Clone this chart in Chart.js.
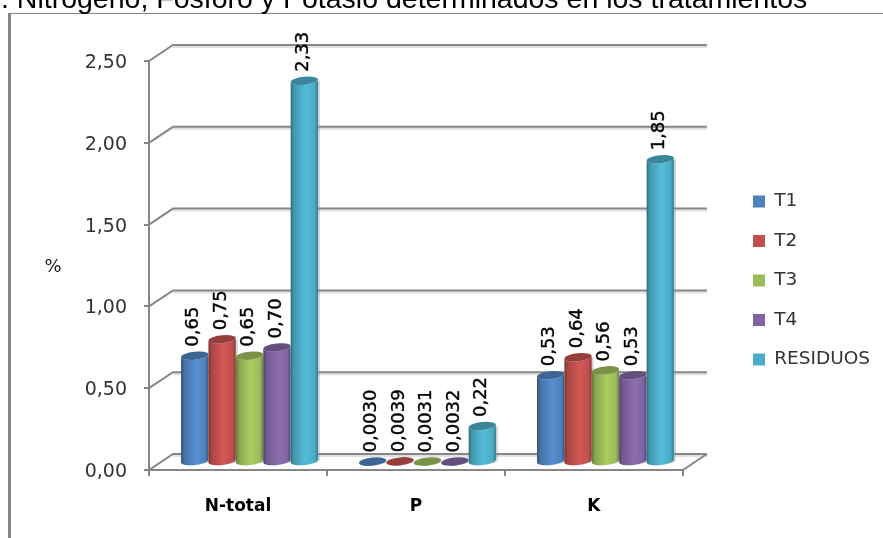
<!DOCTYPE html>
<html>
<head>
<meta charset="utf-8">
<title>Nitrógeno, Fósforo y Potasio</title>
<script src="https://cdn.jsdelivr.net/npm/chart.js@4"></script>
<style>
  html, body { margin: 0; padding: 0; background: #fff; overflow: hidden; }
  canvas { display: block; }
</style>
</head>
<body>
<canvas id="myChart" width="883" height="538"></canvas>
<script>
const categories = ['N-total', 'P', 'K'];
const t1 = [0.65, 0.0030, 0.53];
const t2 = [0.75, 0.0039, 0.64];
const t3 = [0.65, 0.0031, 0.56];
const t4 = [0.70, 0.0032, 0.53];
const residuos = [2.33, 0.22, 1.85];
const seriesNames = ['T1', 'T2', 'T3', 'T4', 'RESIDUOS'];
const seriesColors = ['#4f81bd', '#c0504d', '#9bbb59', '#8064a2', '#4bacc6'];
const titleText = '. Nitrógeno, Fósforo y Potasio determinados en los tratamientos';

const FONT = '"DejaVu Sans", sans-serif';
const GRID = '#868686';
// depth of the floor and walls, and where the cylinders sit on the floor
const DEPTH_X = 24, DEPTH_Y = -16;
const BAR_DX = 11.5, BAR_DY = -8;
const LEGEND_PADDING = 21;

const comma = (v, d) => v.toFixed(d).replace('.', ',');

function shade(hex, f) {
  const n = parseInt(hex.slice(1), 16);
  const c = [n >> 16, (n >> 8) & 255, n & 255].map((x) => Math.min(255, Math.round(x * f)));
  return `rgb(${c[0]},${c[1]},${c[2]})`;
}

function drawWalls(chart) {
  const { ctx } = chart;
  const y = chart.scales.y;
  const x = chart.scales.x;
  const { left, right, bottom } = chart.chartArea;
  ctx.save();
  ctx.lineWidth = 2;
  y.ticks.forEach((tick) => {
    const py = y.getPixelForValue(tick.value);
    // soft edge under the back gridlines
    ctx.strokeStyle = 'rgba(134,134,134,0.25)';
    ctx.beginPath();
    ctx.moveTo(left + DEPTH_X, py + DEPTH_Y + 2);
    ctx.lineTo(right + DEPTH_X, py + DEPTH_Y + 2);
    ctx.stroke();
    ctx.strokeStyle = GRID;
    ctx.beginPath();
    ctx.moveTo(left, py);
    ctx.lineTo(left + DEPTH_X, py + DEPTH_Y);
    ctx.lineTo(right + DEPTH_X, py + DEPTH_Y);
    ctx.stroke();
  });
  // right edge of the floor
  ctx.beginPath();
  ctx.moveTo(x.right, bottom);
  ctx.lineTo(x.right + DEPTH_X, bottom + DEPTH_Y);
  ctx.stroke();
  ctx.restore();
}

function drawCylinder(ctx, bar, color) {
  const w = bar.width;
  const cx = bar.x + BAR_DX;
  const l = cx - w / 2;
  const r = cx + w / 2;
  const top = bar.y + BAR_DY;
  const base = bar.base + BAR_DY;
  const ry = 4;
  const tilt = -0.11;

  const g = ctx.createLinearGradient(l, 0, r, 0);
  g.addColorStop(0, shade(color, 0.62));
  g.addColorStop(0.12, shade(color, 0.88));
  g.addColorStop(0.55, shade(color, 1.1));
  g.addColorStop(0.88, shade(color, 1.0));
  g.addColorStop(1, shade(color, 0.7));

  ctx.save();
  ctx.shadowColor = 'rgba(120,150,160,0.4)';
  ctx.shadowOffsetX = 2;
  ctx.fillStyle = g;
  ctx.beginPath();
  ctx.ellipse(cx, base, w / 2, ry, tilt, 0, Math.PI);
  ctx.ellipse(cx, top, w / 2, ry, tilt, Math.PI, 0, true);
  ctx.closePath();
  ctx.fill();
  ctx.restore();

  ctx.fillStyle = shade(color, 0.78);
  ctx.beginPath();
  ctx.ellipse(cx, top, w / 2, ry, tilt, 0, Math.PI * 2);
  ctx.fill();
}

const cylinders = {
  id: 'cylinders',
  beforeDatasetsDraw(chart) {
    const { ctx } = chart;
    drawWalls(chart);
    chart.data.datasets.forEach((ds, i) => {
      chart.getDatasetMeta(i).data.forEach((bar) => drawCylinder(ctx, bar, ds.backgroundColor));
    });
    // rotated value labels above each cylinder
    ctx.save();
    ctx.fillStyle = '#000';
    ctx.strokeStyle = '#000';
    ctx.lineWidth = 0.4;
    ctx.font = `18px ${FONT}`;
    ctx.textAlign = 'left';
    ctx.textBaseline = 'middle';
    chart.data.datasets.forEach((ds, i) => {
      chart.getDatasetMeta(i).data.forEach((bar, j) => {
        const v = ds.data[j];
        const text = comma(v, v < 0.01 ? 4 : 2);
        ctx.save();
        ctx.translate(bar.x + BAR_DX - 1, bar.y + BAR_DY - 9);
        ctx.rotate(-Math.PI / 2);
        ctx.fillText(text, 0, 0);
        ctx.strokeText(text, 0, 0);
        ctx.restore();
      });
    });
    ctx.restore();
    return false;
  },
};

const decorations = {
  id: 'decorations',
  afterLayout(chart) {
    // the legend floats clear of the plot
    const legend = chart.legend;
    const w = legend.width;
    legend.left = 753 - LEGEND_PADDING;
    legend.right = legend.left + w;
    legend.top -= 19;
    legend.bottom -= 19;
  },
  beforeDraw(chart) {
    const { ctx } = chart;
    ctx.save();
    ctx.fillStyle = '#868686';
    ctx.fillRect(8, 13, 3, 525);
    ctx.fillRect(8, 13, 875, 1);
    ctx.fillStyle = '#000';
    ctx.font = '28.5px "Liberation Sans", Arial, sans-serif';
    ctx.textBaseline = 'alphabetic';
    ctx.textAlign = 'left';
    ctx.fillText(titleText, 1, 8);
    ctx.fillStyle = '#222';
    ctx.font = `18px ${FONT}`;
    ctx.textAlign = 'center';
    ctx.textBaseline = 'middle';
    ctx.fillText('%', 53, 267);
    ctx.restore();
  },
};

const ctx = document.getElementById('myChart').getContext('2d');
new Chart(ctx, {
  type: 'bar',
  data: {
    labels: categories,
    datasets: [t1, t2, t3, t4, residuos].map((values, i) => ({
      label: seriesNames[i],
      data: values,
      backgroundColor: seriesColors[i],
    })),
  },
  options: {
    responsive: false,
    animation: false,
    categoryPercentage: 0.77,
    barPercentage: 1,
    layout: { padding: { top: 61, right: 52, left: 0, bottom: 0 } },
    plugins: {
      tooltip: { enabled: false },
      legend: {
        position: 'right',
        labels: {
          boxWidth: 12,
          boxHeight: 12,
          padding: LEGEND_PADDING,
          color: '#333',
          font: { family: FONT, size: 18.5 },
        },
      },
    },
    scales: {
      x: {
        afterFit: (s) => { s.height = 68; },
        border: { color: GRID, width: 2 },
        grid: { offset: true, drawOnChartArea: false, color: GRID, lineWidth: 2, tickLength: 6 },
        ticks: { color: '#000', padding: 20, font: { family: FONT, size: 17, weight: 'bold' } },
      },
      y: {
        min: 0,
        max: 2.5,
        afterFit: (s) => { s.width = 149; },
        border: { color: GRID, width: 2 },
        grid: { drawOnChartArea: false, color: GRID, lineWidth: 2, tickLength: 5 },
        ticks: {
          stepSize: 0.5,
          color: '#333',
          padding: 17,
          labelOffset: 2,
          font: { family: FONT, size: 19 },
          callback: (v) => comma(v, 2),
        },
      },
    },
  },
  plugins: [cylinders, decorations],
});
</script>
</body>
</html>
